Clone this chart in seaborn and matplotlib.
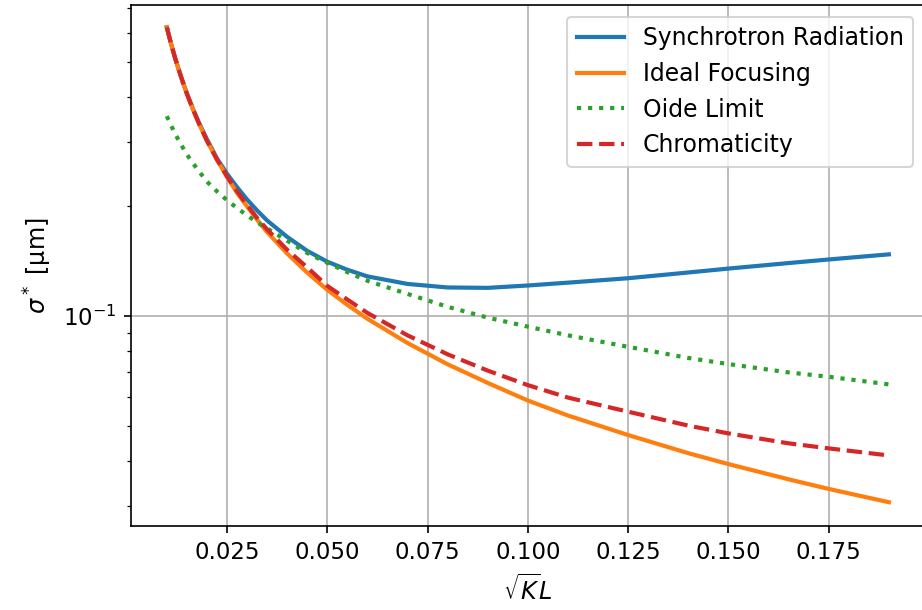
import numpy as np
import pandas as pd
import matplotlib
matplotlib.use("Agg")
import matplotlib.pyplot as plt
import seaborn as sns

# ---- data ----
kl = [0.01, 0.011, 0.012, 0.013, 0.014, 0.015, 0.0165, 0.018, 0.02, 0.0225,
      0.025, 0.0275, 0.03, 0.0325, 0.035, 0.04, 0.045, 0.05, 0.055, 0.06,
      0.07, 0.08, 0.09, 0.1, 0.11, 0.125, 0.14, 0.15, 0.165, 0.175, 0.19]

synchrotron = [0.621, 0.563, 0.515, 0.474, 0.439, 0.409, 0.371, 0.340, 0.306, 0.271,
               0.246, 0.226, 0.209, 0.195, 0.183, 0.165, 0.151, 0.141, 0.134, 0.1285,
               0.1225, 0.1198, 0.1195, 0.1213, 0.1235, 0.127, 0.1317, 0.135, 0.1398, 0.143, 0.1477]
ideal = [0.621, 0.563, 0.514, 0.474, 0.439, 0.408, 0.370, 0.338, 0.303, 0.269,
         0.241, 0.218, 0.200, 0.184, 0.170, 0.1485, 0.1316, 0.118, 0.1073, 0.0983,
         0.0843, 0.0737, 0.0655, 0.0586, 0.0533, 0.0471, 0.0420, 0.0392, 0.0356, 0.0335, 0.0308]
oide = [0.354, 0.335, 0.318, 0.303, 0.290, 0.278, 0.263, 0.250, 0.234, 0.220,
        0.208, 0.198, 0.189, 0.181, 0.174, 0.161, 0.149, 0.140, 0.132, 0.125,
        0.115, 0.106, 0.099, 0.0935, 0.0885, 0.0823, 0.0767, 0.0738, 0.0700, 0.0681, 0.0649]
chromaticity = [0.621, 0.563, 0.514, 0.474, 0.439, 0.408, 0.370, 0.338, 0.303, 0.269,
                0.242, 0.220, 0.202, 0.186, 0.173, 0.152, 0.136, 0.121, 0.111, 0.102,
                0.0885, 0.0785, 0.0708, 0.0646, 0.0597, 0.0546, 0.0500, 0.0476, 0.0447, 0.0433, 0.0414]

labels = ["Synchrotron Radiation", "Ideal Focusing", "Oide Limit", "Chromaticity"]
series = [synchrotron, ideal, oide, chromaticity]
colors = ["#1f77b4", "#ff7f0e", "#2ca02c", "#d62728"]
styles = ["-", "-", ":", "--"]

plt.rcParams["font.family"] = ["DejaVu Sans"]
plt.rcParams["font.size"] = 11

dpi = 150
fig = plt.figure(figsize=(922 / dpi, 610 / dpi), dpi=dpi)
ax = fig.add_axes([130.7 / 922, 84 / 610, (925 - 130.7) / 922, (526 - 5) / 610])

for lab, ys, c, ls in zip(labels, series, colors, styles):
    df = pd.DataFrame({"x": kl, "y": ys})
    sns.lineplot(data=df, x="x", y="y", ax=ax, color=c, linestyle=ls,
                 linewidth=2, label=lab)

ax.set_yscale("log")
ax.set_xlim(0.001, 0.199)
ax.set_ylim(0.0265, 0.715)
ax.set_xticks([0.025, 0.05, 0.075, 0.1, 0.125, 0.15, 0.175])
ax.set_xticklabels(["0.025", "0.050", "0.075", "0.100", "0.125", "0.150", "0.175"])
ax.tick_params(labelsize=11)
ax.grid(True, which="major", color="#b0b0b0", linewidth=0.8)
ax.set_xlabel(r"$\sqrt{K}L$", fontsize=11.5, labelpad=5)
ax.set_ylabel(r"$\sigma^*$ [μm]", fontsize=11.5)
ax.legend(loc="upper right", fontsize=11.3)

fig.savefig("out.png", dpi=dpi)
